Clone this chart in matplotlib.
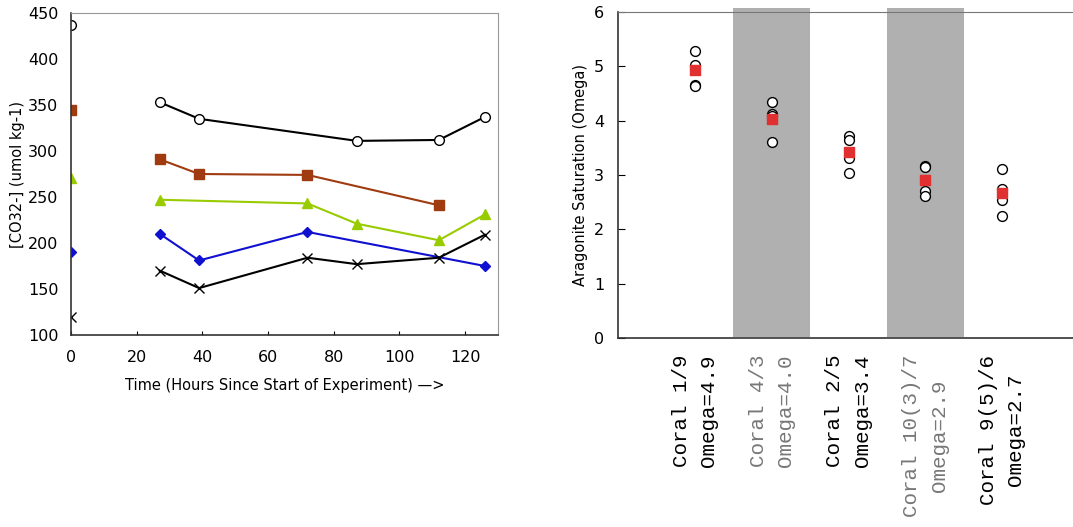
import matplotlib.pyplot as plt

# left panel: carbonate ion over time
t_circ = [0, 27, 39, 87, 112, 126]
co3_circ = [437, 353, 335, 311, 312, 337]
t_sq = [0, 27, 39, 72, 112]
co3_sq = [345, 291, 275, 274, 241]
t_tri = [0, 27, 72, 87, 112, 126]
co3_tri = [271, 247, 243, 221, 203, 231]
t_dia = [0, 27, 39, 72, 126]
co3_dia = [190, 210, 181, 212, 175]
t_x = [0, 27, 39, 72, 87, 112, 126]
co3_x = [120, 170, 151, 184, 177, 184, 209]

# right panel: aragonite saturation per coral
corals = ['Coral 1/9\nOmega=4.9', 'Coral 4/3\nOmega=4.0', 'Coral 2/5\nOmega=3.4',
          'Coral 10(3)/7\nOmega=2.9', 'Coral 9(5)/6\nOmega=2.7']
omega_pts = [[5.29, 5.03, 4.66, 4.64],
             [4.35, 4.12, 4.09, 3.60],
             [3.71, 3.65, 3.31, 3.03],
             [3.17, 3.14, 2.71, 2.61],
             [3.11, 2.75, 2.54, 2.25]]
omega_mean = [4.94, 4.03, 3.43, 2.91, 2.67]

plt.rcParams['font.family'] = 'DejaVu Sans'
fig = plt.figure(figsize=(10.73, 5.27), dpi=100)

ax1 = fig.add_axes([71/1073, 1 - 335/527, 427/1073, 322/527])
ms = 7
ax1.plot(t_circ[1:], co3_circ[1:], color='black', lw=1.5, marker='o', mfc='white', mec='black', ms=ms)
ax1.plot(t_circ[:1], co3_circ[:1], ls='none', marker='o', mfc='white', mec='black', ms=ms)
ax1.plot(t_sq[1:], co3_sq[1:], color='#a03a10', lw=1.5, marker='s', ms=ms)
ax1.plot(t_sq[:1], co3_sq[:1], ls='none', color='#a03a10', marker='s', ms=ms)
ax1.plot(t_tri[1:], co3_tri[1:], color='#99cc00', lw=1.5, marker='^', ms=ms)
ax1.plot(t_tri[:1], co3_tri[:1], ls='none', color='#99cc00', marker='^', ms=ms)
ax1.plot(t_dia[1:], co3_dia[1:], color='#1010d0', lw=1.5, marker='D', ms=5)
ax1.plot(t_dia[:1], co3_dia[:1], ls='none', color='#1010d0', marker='D', ms=5)
ax1.plot(t_x[1:], co3_x[1:], color='black', lw=1.5, marker='x', ms=ms)
ax1.plot(t_x[:1], co3_x[:1], ls='none', color='black', marker='x', ms=ms)

ax1.set_xlim(0, 130)
ax1.set_ylim(100, 450)
ax1.set_xticks(range(0, 121, 20))
ax1.set_yticks(range(100, 451, 50))
ax1.tick_params(direction='in', labelsize=11.5)
ax1.tick_params(axis='x', pad=11, length=3)
ax1.tick_params(axis='y', pad=9, length=0)
for s in ['top', 'right']:
    ax1.spines[s].set_color('#999999')
for s in ['left', 'bottom']:
    ax1.spines[s].set_color('#333333')
    ax1.spines[s].set_linewidth(1.2)
ax1.set_xlabel('Time (Hours Since Start of Experiment) \u2014>', fontsize=10.5, labelpad=9)
ax1.set_ylabel('[CO32-] (umol kg-1)', fontsize=10.5, labelpad=2)

ax2 = fig.add_axes([618/1073, 1 - 338/527, 455/1073, 326/527])
pos = range(1, len(corals) + 1)
for i in [2, 4]:
    ax2.fill_between([i - 0.5, i + 0.5], 0.02, 6.08, color='#b0b0b0', lw=0, clip_on=False, zorder=0)
for p, vals in zip(pos, omega_pts):
    ax2.scatter([p] * len(vals), vals, s=50, facecolor='white', edgecolor='black', lw=1, zorder=3)
ax2.scatter(list(pos), omega_mean, marker='s', s=50, color='#e03030', zorder=4)
ax2.set_xlim(0, 5.92)
ax2.set_ylim(0, 6)
ax2.set_xticks(list(pos))
ax2.set_xticklabels(corals, rotation=90, family='Liberation Mono', fontsize=15,
                    va='top', ha='center', linespacing=1.55)
for i, lab in enumerate(ax2.get_xticklabels()):
    lab.set_color('#777777' if i % 2 == 1 else 'black')
ax2.tick_params(axis='x', length=0, pad=12)
ax2.tick_params(axis='y', direction='in', labelsize=11.5, length=5, pad=10)
ax2.spines['top'].set_color('#777777')
ax2.spines['right'].set_visible(False)
for s in ['left', 'bottom']:
    ax2.spines[s].set_color('#333333')
    ax2.spines[s].set_linewidth(1.2)
ax2.set_ylabel('Aragonite Saturation (Omega)', fontsize=10.5, labelpad=4)

fig.savefig('out.png', dpi=100)
